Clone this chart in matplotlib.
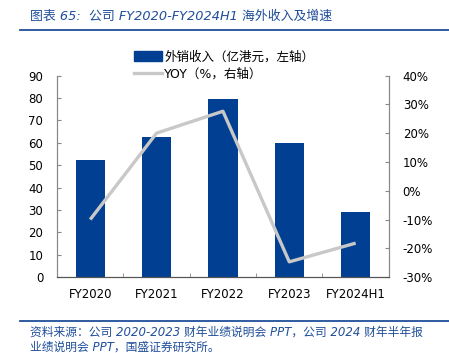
import numpy as np
import matplotlib.pyplot as plt
from matplotlib.lines import Line2D
from matplotlib.patches import Patch

plt.rcParams['font.family'] = ['Noto Sans CJK SC', 'DejaVu Sans']

categories = ["FY2020", "FY2021", "FY2022", "FY2023", "FY2024H1"]
revenue = [52.3, 62.5, 79.7, 60.0, 29.0]      # 外销收入, 亿港元
yoy = [-10.0, 20.0, 27.6, -24.7, -18.2]       # %

title = "图表 65:  公司 FY2020-FY2024H1 海外收入及增速"
source = ("资料来源：公司 2020-2023 财年业绩说明会 PPT，公司 2024 财年半年报\n"
          "业绩说明会 PPT，国盛证券研究所。")

BAR = "#003f91"
LINE = "#c8c8c8"
BLUE = "#1f4e9a"
LATIN_FIRST = ["DejaVu Sans", "Noto Sans CJK SC"]

fig = plt.figure(figsize=(4.49, 3.53), dpi=100)
ax = fig.add_axes([0.127, 0.215, 0.739, 0.571])
ax2 = ax.twinx()

x = np.arange(len(categories))
ax.bar(x, revenue, width=0.44, color=BAR, zorder=2)
ax2.plot(x, yoy, color=LINE, lw=2.4, solid_capstyle="butt", zorder=3)

ax.set_xlim(-0.5, len(categories) - 0.5)
ax.set_ylim(0, 90)
ax.set_yticks(np.arange(0, 91, 10))
ax2.set_ylim(-30, 40)
ax2.set_yticks(np.arange(-30, 41, 10))
ax2.set_yticklabels([f"{v}%" for v in range(-30, 41, 10)])

ax.set_xticks(x)
ax.set_xticklabels(categories, fontsize=8.5, family="DejaVu Sans")
ax.set_xticks(np.arange(0.5, len(categories) - 0.5, 1), minor=True)
ax.tick_params(axis="x", which="major", length=0, pad=8)
ax.tick_params(axis="x", which="minor", direction="in", length=3, color="#888888")
ax.tick_params(axis="y", direction="in", length=3, color="#888888", labelsize=8.5, pad=10)
ax2.tick_params(axis="y", direction="in", length=3, color="#888888", labelsize=8.5, pad=10)
for t in ax.get_yticklabels() + ax2.get_yticklabels():
    t.set_family("DejaVu Sans")

for a in (ax, ax2):
    a.spines["top"].set_visible(False)
    a.spines["left"].set_color("#888888")
    a.spines["right"].set_color("#888888")
    a.spines["bottom"].set_color("#555555")

handles = [Patch(color=BAR), Line2D([], [], color=LINE, lw=2.4)]
labels = ["外销收入（亿港元，左轴）", "YOY（%，右轴）"]
fig.legend(handles, labels, loc="upper left", bbox_to_anchor=(0.285, 0.875),
           frameon=False, prop={"family": LATIN_FIRST, "size": 9},
           handlelength=2.2, handleheight=0.8, handletextpad=0.2,
           labelspacing=0.35, borderpad=0)

fig.text(0.067, 0.955, title, color=BLUE, fontsize=9.3, style="italic",
         family=LATIN_FIRST, va="center", ha="left")
fig.add_artist(Line2D([0.045, 1.0], [0.915, 0.915], color=BLUE, lw=1.3))
fig.add_artist(Line2D([0.045, 1.0], [0.092, 0.092], color=BLUE, lw=1.3))
fig.text(0.067, 0.077, source, color=BLUE, fontsize=8.5, style="italic",
         family=LATIN_FIRST, va="top", ha="left", linespacing=1.2)

fig.savefig("out.png", dpi=100)
